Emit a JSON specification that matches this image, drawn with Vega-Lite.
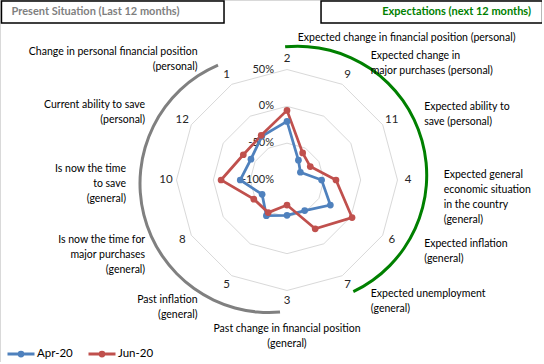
{
  "$schema": "https://vega.github.io/schema/vega-lite/v6.json",
  "width": 542,
  "height": 362,
  "autosize": {"type": "none"},
  "padding": 0,
  "background": "white",
  "config": {
    "view": {"stroke": "#d9d9d9", "strokeWidth": 1},
    "font": "Lato",
    "text": {"font": "Lato", "lineBreak": "\n", "lineHeight": 15}
  },
  "datasets": {
    "axes": [
      {"idx": 0, "num": "2", "group": "exp", "label": "Expected change in financial position (personal)"},
      {"idx": 1, "num": "9", "group": "exp", "label": "Expected change in\nmajor purchases (personal)"},
      {"idx": 2, "num": "11", "group": "exp", "label": "Expected ability to\nsave (personal)"},
      {"idx": 3, "num": "4", "group": "exp", "label": "Expected general\neconomic situation\nin the country\n(general)"},
      {"idx": 4, "num": "6", "group": "exp", "label": "Expected inflation\n(general)"},
      {"idx": 5, "num": "7", "group": "exp", "label": "Expected unemployment\n(general)"},
      {"idx": 6, "num": "3", "group": "pres", "label": "Past change in financial position\n(general)"},
      {"idx": 7, "num": "5", "group": "pres", "label": "Past inflation\n(general)"},
      {"idx": 8, "num": "8", "group": "pres", "label": "Is now the time for\nmajor purchases\n(general)"},
      {"idx": 9, "num": "10", "group": "pres", "label": "Is now the time\nto save\n(general)"},
      {"idx": 10, "num": "12", "group": "pres", "label": "Current ability to save\n(personal)"},
      {"idx": 11, "num": "1", "group": "pres", "label": "Change in personal financial position\n(personal)"}
    ],
    "scores": [
      {"series": "Apr-20", "idx": 0, "num": "2", "value": -20.5},
      {"series": "Apr-20", "idx": 1, "num": "9", "value": -69},
      {"series": "Apr-20", "idx": 2, "num": "11", "value": -79},
      {"series": "Apr-20", "idx": 3, "num": "4", "value": -53},
      {"series": "Apr-20", "idx": 4, "num": "6", "value": -32},
      {"series": "Apr-20", "idx": 5, "num": "7", "value": -52},
      {"series": "Apr-20", "idx": 6, "num": "3", "value": -52},
      {"series": "Apr-20", "idx": 7, "num": "5", "value": -44},
      {"series": "Apr-20", "idx": 8, "num": "8", "value": -61},
      {"series": "Apr-20", "idx": 9, "num": "10", "value": -36.5},
      {"series": "Apr-20", "idx": 10, "num": "12", "value": -43.5},
      {"series": "Apr-20", "idx": 11, "num": "1", "value": -31.5},
      {"series": "Jun-20", "idx": 0, "num": "2", "value": -5.5},
      {"series": "Jun-20", "idx": 1, "num": "9", "value": -57.5},
      {"series": "Jun-20", "idx": 2, "num": "11", "value": -63.5},
      {"series": "Jun-20", "idx": 3, "num": "4", "value": -33.5},
      {"series": "Jun-20", "idx": 4, "num": "6", "value": 2},
      {"series": "Jun-20", "idx": 5, "num": "7", "value": -23.5},
      {"series": "Jun-20", "idx": 6, "num": "3", "value": -66},
      {"series": "Jun-20", "idx": 7, "num": "5", "value": -49},
      {"series": "Jun-20", "idx": 8, "num": "8", "value": -48},
      {"series": "Jun-20", "idx": 9, "num": "10", "value": -10.5},
      {"series": "Jun-20", "idx": 10, "num": "12", "value": -31.5},
      {"series": "Jun-20", "idx": 11, "num": "1", "value": -30}
    ],
    "levels": [
      {"level": -100, "tick": "-100%", "i": [0, 1, 2, 3, 4, 5, 6, 7, 8, 9, 10, 11, 12]},
      {"level": -50, "tick": "-50%", "i": [0, 1, 2, 3, 4, 5, 6, 7, 8, 9, 10, 11, 12]},
      {"level": 0, "tick": "0%", "i": [0, 1, 2, 3, 4, 5, 6, 7, 8, 9, 10, 11, 12]},
      {"level": 50, "tick": "50%", "i": [0, 1, 2, 3, 4, 5, 6, 7, 8, 9, 10, 11, 12]}
    ]
  },
  "layer": [
    {
      "data": {"name": "levels"},
      "transform": [
        {"filter": "datum.level > -100"},
        {"flatten": ["i"]},
        {"calculate": "(datum.level + 100) / 150", "as": "r"},
        {"calculate": "datum.r * sin(datum.i * PI / 6)", "as": "x"},
        {"calculate": "datum.r * cos(datum.i * PI / 6)", "as": "y"}
      ],
      "mark": {"type": "line", "stroke": "#d9d9d9", "strokeWidth": 1},
      "encoding": {
        "x": {"field": "x", "type": "quantitative", "scale": {"domain": [-2.5973, 2.3077], "nice": false, "zero": false}, "axis": null},
        "y": {"field": "y", "type": "quantitative", "scale": {"domain": [-1.6471, 1.629], "nice": false, "zero": false}, "axis": null},
        "detail": {"field": "level", "type": "nominal"},
        "order": {"field": "i", "type": "quantitative"}
      }
    },
    {
      "data": {"values": [{"part": "present"}]},
      "mark": {"type": "arc", "theta": 3.056, "theta2": 5.877, "radius": 130.5, "radius2": 127.5, "fill": "#808080"},
      "encoding": {
        "x": {"datum": -0.163, "type": "quantitative", "scale": {"domain": [-2.5973, 2.3077], "nice": false, "zero": false}, "axis": null},
        "y": {"datum": -0.032, "type": "quantitative", "scale": {"domain": [-1.6471, 1.629], "nice": false, "zero": false}, "axis": null}
      }
    },
    {
      "data": {"values": [{"part": "expectations"}]},
      "mark": {"type": "arc", "theta": -0.0977, "theta2": 2.696, "radius": 130.5, "radius2": 127.5, "fill": "#008000"},
      "encoding": {
        "x": {"datum": 0.097, "type": "quantitative", "scale": {"domain": [-2.5973, 2.3077], "nice": false, "zero": false}, "axis": null},
        "y": {"datum": 0.043, "type": "quantitative", "scale": {"domain": [-1.6471, 1.629], "nice": false, "zero": false}, "axis": null}
      }
    },
    {
      "data": {"name": "levels"},
      "transform": [
        {"calculate": "(datum.level + 100) / 150", "as": "y"},
        {"calculate": "0", "as": "x"}
      ],
      "mark": {"type": "text", "align": "right", "baseline": "middle", "dx": -13, "fontSize": 11, "color": "#262626"},
      "encoding": {
        "x": {"field": "x", "type": "quantitative", "scale": {"domain": [-2.5973, 2.3077], "nice": false, "zero": false}, "axis": null},
        "y": {"field": "y", "type": "quantitative", "scale": {"domain": [-1.6471, 1.629], "nice": false, "zero": false}, "axis": null},
        "text": {"field": "tick"}
      }
    },
    {
      "data": {"name": "scores"},
      "transform": [
        {"calculate": "(datum.value + 100) / 150", "as": "r"},
        {"calculate": "datum.r * sin(datum.idx * PI / 6)", "as": "x"},
        {"calculate": "datum.r * cos(datum.idx * PI / 6)", "as": "y"}
      ],
      "mark": {"type": "line", "strokeWidth": 2.75},
      "encoding": {
        "x": {"field": "x", "type": "quantitative", "scale": {"domain": [-2.5973, 2.3077], "nice": false, "zero": false}, "axis": null},
        "y": {"field": "y", "type": "quantitative", "scale": {"domain": [-1.6471, 1.629], "nice": false, "zero": false}, "axis": null},
        "color": {
          "field": "series", "type": "nominal",
          "scale": {"domain": ["Apr-20", "Jun-20"], "range": ["#4F81BD", "#C0504D"]},
          "legend": {
            "title": null, "orient": "none", "legendX": 6, "legendY": 339, "direction": "horizontal",
            "symbolType": "M-1,0H1M0.14,0A0.14,0.14,0,1,1,-0.14,0A0.14,0.14,0,1,1,0.14,0",
            "symbolSize": 729, "symbolStrokeWidth": 3, "labelFontSize": 11.5, "labelFont": "Lato",
            "labelColor": "#000000", "labelOffset": 1, "columnPadding": 9, "padding": 0
          }
        },
        "order": {"field": "idx", "type": "quantitative"}
      }
    },
    {
      "data": {"name": "scores"},
      "transform": [
        {"filter": "datum.idx == 0 || datum.idx == 11"},
        {"calculate": "(datum.value + 100) / 150", "as": "r"},
        {"calculate": "datum.r * sin(datum.idx * PI / 6)", "as": "x"},
        {"calculate": "datum.r * cos(datum.idx * PI / 6)", "as": "y"}
      ],
      "mark": {"type": "line", "strokeWidth": 2.75},
      "encoding": {
        "x": {"field": "x", "type": "quantitative", "scale": {"domain": [-2.5973, 2.3077], "nice": false, "zero": false}, "axis": null},
        "y": {"field": "y", "type": "quantitative", "scale": {"domain": [-1.6471, 1.629], "nice": false, "zero": false}, "axis": null},
        "color": {"field": "series", "type": "nominal", "scale": {"domain": ["Apr-20", "Jun-20"], "range": ["#4F81BD", "#C0504D"]}},
        "order": {"field": "idx", "type": "quantitative"}
      }
    },
    {
      "data": {"name": "scores"},
      "transform": [
        {"calculate": "(datum.value + 100) / 150", "as": "r"},
        {"calculate": "datum.r * sin(datum.idx * PI / 6)", "as": "x"},
        {"calculate": "datum.r * cos(datum.idx * PI / 6)", "as": "y"}
      ],
      "mark": {"type": "point", "filled": true, "size": 45, "opacity": 1, "shape": "circle"},
      "encoding": {
        "x": {"field": "x", "type": "quantitative", "scale": {"domain": [-2.5973, 2.3077], "nice": false, "zero": false}, "axis": null},
        "y": {"field": "y", "type": "quantitative", "scale": {"domain": [-1.6471, 1.629], "nice": false, "zero": false}, "axis": null},
        "color": {"field": "series", "type": "nominal", "scale": {"domain": ["Apr-20", "Jun-20"], "range": ["#4F81BD", "#C0504D"]}}
      }
    },
    {
      "data": {"name": "axes"},
      "transform": [
        {"calculate": "1.095 * sin(datum.idx * PI / 6)", "as": "x"},
        {"calculate": "1.095 * cos(datum.idx * PI / 6)", "as": "y"}
      ],
      "mark": {"type": "text", "align": "center", "baseline": "middle", "fontSize": 11.5, "color": "#262626"},
      "encoding": {
        "x": {"field": "x", "type": "quantitative", "scale": {"domain": [-2.5973, 2.3077], "nice": false, "zero": false}, "axis": null},
        "y": {"field": "y", "type": "quantitative", "scale": {"domain": [-1.6471, 1.629], "nice": false, "zero": false}, "axis": null},
        "text": {"field": "num"}
      }
    },
    {
      "data": {"name": "axes"},
      "transform": [
        {"filter": "datum.group == 'exp'"},
        {"calculate": "0.097 + 1.321 * sin(datum.idx * PI / 6)", "as": "x"},
        {"calculate": "0.045 + 1.24 * cos(datum.idx * PI / 6)", "as": "y"}
      ],
      "mark": {"type": "text", "align": "left", "baseline": "middle", "fontSize": 10.5, "color": "#000000"},
      "encoding": {
        "x": {"field": "x", "type": "quantitative", "scale": {"domain": [-2.5973, 2.3077], "nice": false, "zero": false}, "axis": null},
        "y": {"field": "y", "type": "quantitative", "scale": {"domain": [-1.6471, 1.629], "nice": false, "zero": false}, "axis": null},
        "text": {"field": "label"}
      }
    },
    {
      "data": {"name": "axes"},
      "transform": [
        {"filter": "datum.group == 'pres' && datum.idx != 6"},
        {"calculate": "length(split(datum.label, '\\n'))", "as": "nl"},
        {"calculate": "-0.163 + 1.294 * sin(datum.idx * PI / 6)", "as": "x"},
        {"calculate": "-0.032 + 1.294 * cos(datum.idx * PI / 6) + (datum.nl - 1) * 7.5 / 110.5", "as": "y"}
      ],
      "mark": {"type": "text", "align": "right", "baseline": "middle", "fontSize": 10.5, "color": "#000000"},
      "encoding": {
        "x": {"field": "x", "type": "quantitative", "scale": {"domain": [-2.5973, 2.3077], "nice": false, "zero": false}, "axis": null},
        "y": {"field": "y", "type": "quantitative", "scale": {"domain": [-1.6471, 1.629], "nice": false, "zero": false}, "axis": null},
        "text": {"field": "label"}
      }
    },
    {
      "data": {"name": "axes"},
      "transform": [
        {"filter": "datum.idx == 6"},
        {"calculate": "0", "as": "x"},
        {"calculate": "-0.032 + 1.294 * cos(datum.idx * PI / 6)", "as": "y"}
      ],
      "mark": {"type": "text", "align": "center", "baseline": "top", "dy": -3, "fontSize": 10.5, "color": "#000000"},
      "encoding": {
        "x": {"field": "x", "type": "quantitative", "scale": {"domain": [-2.5973, 2.3077], "nice": false, "zero": false}, "axis": null},
        "y": {"field": "y", "type": "quantitative", "scale": {"domain": [-1.6471, 1.629], "nice": false, "zero": false}, "axis": null},
        "text": {"field": "label"}
      }
    },
    {
      "data": {"values": [{"box": "present"}]},
      "mark": {"type": "rect", "fill": "white", "stroke": "#000000", "strokeWidth": 1.5},
      "encoding": {
        "x": {"datum": -2.584, "type": "quantitative", "scale": {"domain": [-2.5973, 2.3077], "nice": false, "zero": false}, "axis": null},
        "x2": {"datum": -0.57},
        "y": {"datum": 1.62, "type": "quantitative", "scale": {"domain": [-1.6471, 1.629], "nice": false, "zero": false}, "axis": null},
        "y2": {"datum": 1.421}
      }
    },
    {
      "data": {"values": [{"box": "expectations"}]},
      "mark": {"type": "rect", "fill": "white", "stroke": "#000000", "strokeWidth": 1.5},
      "encoding": {
        "x": {"datum": 0.308, "type": "quantitative", "scale": {"domain": [-2.5973, 2.3077], "nice": false, "zero": false}, "axis": null},
        "x2": {"datum": 2.312},
        "y": {"datum": 1.62, "type": "quantitative", "scale": {"domain": [-1.6471, 1.629], "nice": false, "zero": false}, "axis": null},
        "y2": {"datum": 1.421}
      }
    },
    {
      "data": {"values": [{"t": "Present Situation (Last 12 months)"}]},
      "mark": {"type": "text", "align": "left", "baseline": "middle", "fontSize": 11, "fontWeight": "bold", "color": "#7f7f7f"},
      "encoding": {
        "x": {"datum": -2.493, "type": "quantitative", "scale": {"domain": [-2.5973, 2.3077], "nice": false, "zero": false}, "axis": null},
        "y": {"datum": 1.52, "type": "quantitative", "scale": {"domain": [-1.6471, 1.629], "nice": false, "zero": false}, "axis": null},
        "text": {"field": "t"}
      }
    },
    {
      "data": {"values": [{"t": "Expectations (next 12 months)"}]},
      "mark": {"type": "text", "align": "right", "baseline": "middle", "fontSize": 11, "fontWeight": "bold", "color": "#008000"},
      "encoding": {
        "x": {"datum": 2.208, "type": "quantitative", "scale": {"domain": [-2.5973, 2.3077], "nice": false, "zero": false}, "axis": null},
        "y": {"datum": 1.52, "type": "quantitative", "scale": {"domain": [-1.6471, 1.629], "nice": false, "zero": false}, "axis": null},
        "text": {"field": "t"}
      }
    }
  ]
}
